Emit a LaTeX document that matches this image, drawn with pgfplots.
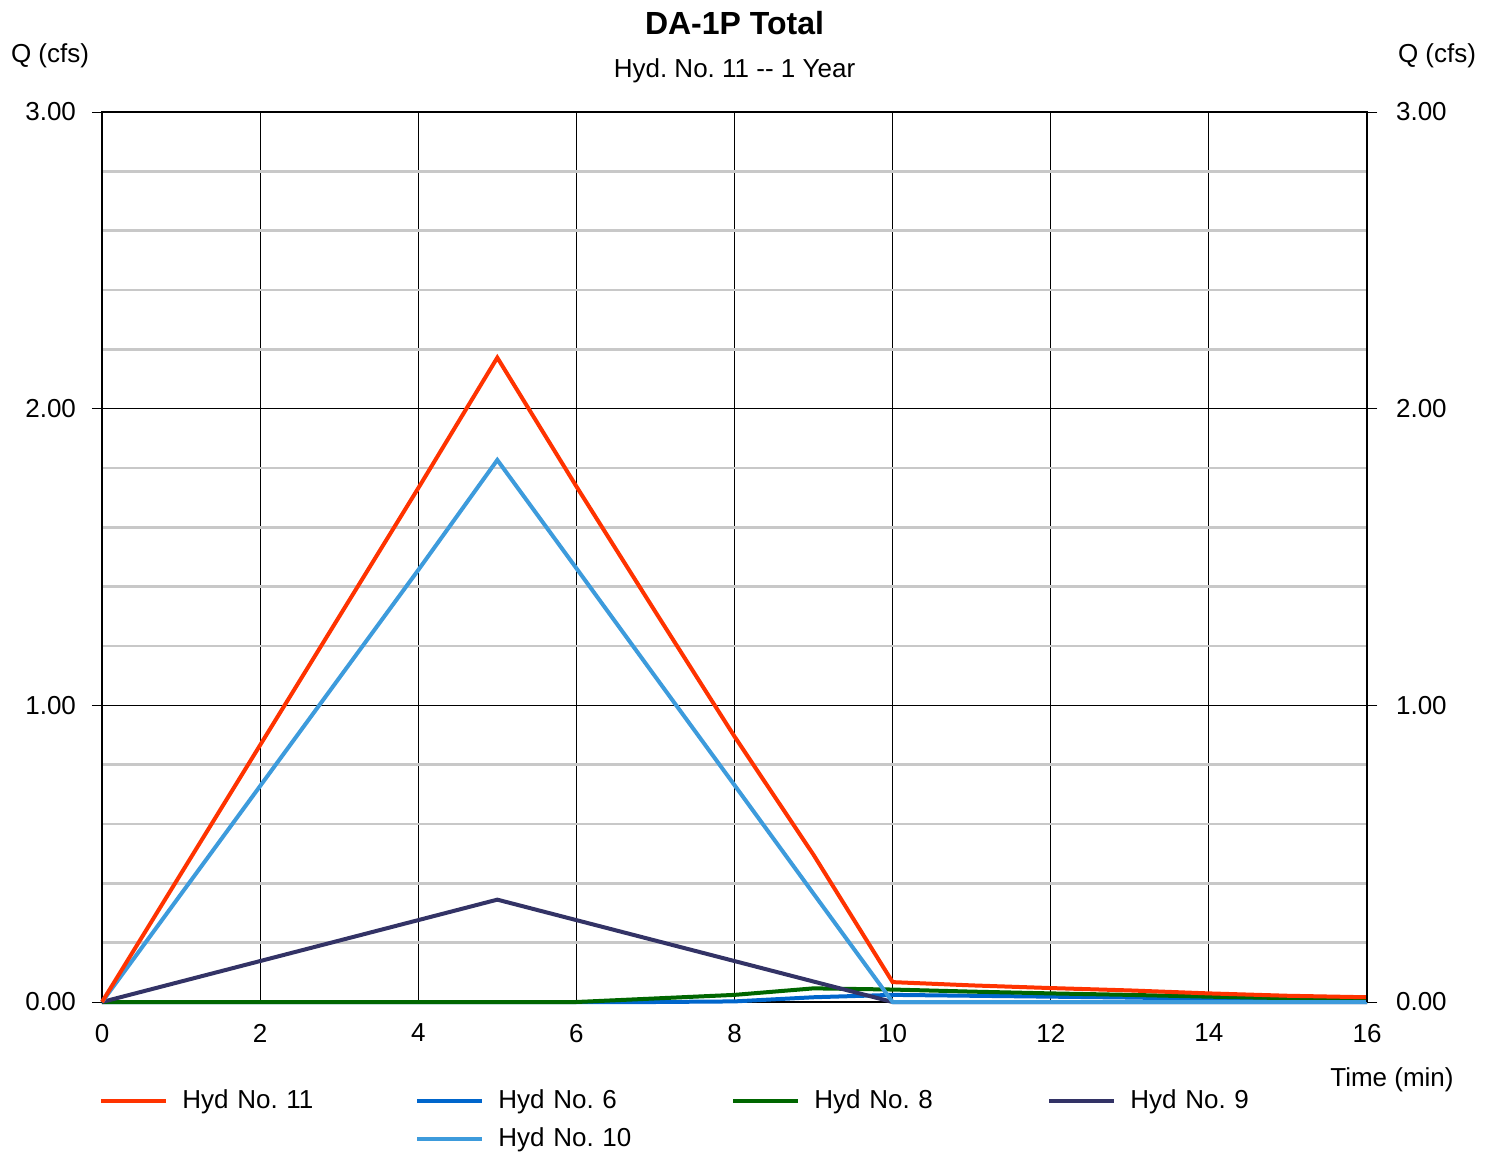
\documentclass[border=0pt]{standalone}
\usepackage{pgfplots}
\pgfplotsset{compat=1.18}
\usepackage{pgfplotstable}
\usepackage{fontspec}
\setmainfont{Liberation Sans}
\frenchspacing
\definecolor{c11}{HTML}{FF3300}
\definecolor{c6}{HTML}{0066CC}
\definecolor{c8}{HTML}{006600}
\definecolor{c9}{HTML}{333366}
\definecolor{c10}{HTML}{3D9BDC}
\definecolor{gridgray}{HTML}{C8C8C8}

\pgfplotstableread{
t h6 h8 h9 h10 h11
0 0 0 0 0 0
1 0 0 0.069 0.364 0.433
2 0 0 0.138 0.728 0.866
3 0 0 0.207 1.092 1.299
4 0 0 0.276 1.456 1.732
5 0 0 0.345 1.827 2.172
6 0 0 0.276 1.462 1.738
7 0 0.012 0.207 1.096 1.315
8 0.002 0.024 0.138 0.731 0.895
9 0.016 0.046 0.069 0.365 0.496
10 0.024 0.042 0 0 0.067
11 0.021 0.035 0 0 0.056
12 0.018 0.029 0 0 0.047
13 0.015 0.024 0 0 0.039
14 0.011 0.018 0 0 0.029
15 0.008 0.013 0 0 0.021
16 0.006 0.010 0 0 0.016
}\datatable

\begin{document}
\begin{tikzpicture}
\useasboundingbox (-51pt,-75.5pt) rectangle (697pt,501pt);
\begin{axis}[
  name=main,
  width=632.5pt, height=445pt, scale only axis,
  xmin=0, xmax=16, ymin=0, ymax=3,
  xtick={0,2,...,16}, ytick={0,1,2,3},
  minor y tick num=4,
  grid=both,
  major grid style={black, line width=0.5pt},
  minor grid style={gridgray, line width=1.2pt},
  axis line style={black, line width=0.6pt},
  tick align=outside,
  major tick length=5pt,
  minor tick length=0pt,
  xtick style={draw=none},
  ytick style={black, line width=0.5pt},
  tick label style={font=\fontsize{13}{15}\selectfont},
  xticklabel style={yshift=-2.5pt},
  yticklabel style={xshift=-4.5pt},
  /pgf/number format/assume math mode=true,
  yticklabel={\pgfmathprintnumber[fixed,fixed zerofill,precision=2,assume math mode=true]{\tick}},
  clip=false,
  legend image code/.code={\draw[#1, line width=2pt] (0pt,0pt) -- (32.5pt,0pt);},
  legend columns=4,
  legend cell align=left,
  legend style={at={(axis description cs:0,-0.0966)}, anchor=north west, xshift=-1.5pt, draw=none, fill=none,
    inner sep=0pt, row sep=6pt,
    font=\fontsize{13}{15}\selectfont,
    nodes={inner sep=0pt, text width=116.5pt, align=left, text height=10pt, text depth=3pt},
    /tikz/every odd column/.append style={column sep=7pt},
    /tikz/every even column/.append style={column sep=0pt}},
]
\addplot[c6, line width=2pt, forget plot] table[x=t, y=h6] {\datatable};
\addplot[c8, line width=2pt, forget plot] table[x=t, y=h8] {\datatable};
\addplot[c9, line width=2pt, forget plot] table[x=t, y=h9] {\datatable};
\addplot[c10, line width=2pt, forget plot] table[x=t, y=h10] {\datatable};
\addplot[c11, line width=2pt, forget plot] table[x=t, y=h11] {\datatable};

\addlegendimage{c11}\addlegendentry{Hyd No. 11}
\addlegendimage{c6}\addlegendentry{Hyd No. 6}
\addlegendimage{c8}\addlegendentry{Hyd No. 8}
\addlegendimage{c9}\addlegendentry{Hyd No. 9}
\addlegendimage{empty legend}\addlegendentry{}
\addlegendimage{c10}\addlegendentry{Hyd No. 10}

\node[font=\fontsize{16}{19}\selectfont\bfseries] at (rel axis cs:0.5,1) [yshift=44.5pt] {DA-1P Total};
\node[font=\fontsize{13}{15}\selectfont] at (rel axis cs:0.5,1) [yshift=20.5pt] {Hyd. No. 11 -{}- 1 Year};
\node[font=\fontsize{13}{15}\selectfont] at (rel axis cs:0,1) [xshift=-26pt, yshift=28pt] {Q (cfs)};
\node[font=\fontsize{13}{15}\selectfont] at (rel axis cs:1,1) [xshift=35pt, yshift=28pt] {Q (cfs)};
\node[font=\fontsize{13}{15}\selectfont] at (rel axis cs:1,0) [xshift=12.5pt, yshift=-39pt] {Time (min)};
\end{axis}
\begin{axis}[
  width=632.5pt, height=445pt, scale only axis,
  xmin=0, xmax=16, ymin=0, ymax=3,
  axis x line=none, axis y line*=right,
  ytick={0,1,2,3},
  tick align=outside,
  major tick length=5pt,
  ytick style={black, line width=0.5pt},
  axis line style={black, line width=0.6pt, -},
  tick label style={font=\fontsize{13}{15}\selectfont},
  yticklabel style={xshift=6pt},
  yticklabel={\pgfmathprintnumber[fixed,fixed zerofill,precision=2,assume math mode=true]{\tick}},
]
\addplot[draw=none, forget plot] coordinates {(0,0)};
\end{axis}
\end{tikzpicture}
\end{document}
